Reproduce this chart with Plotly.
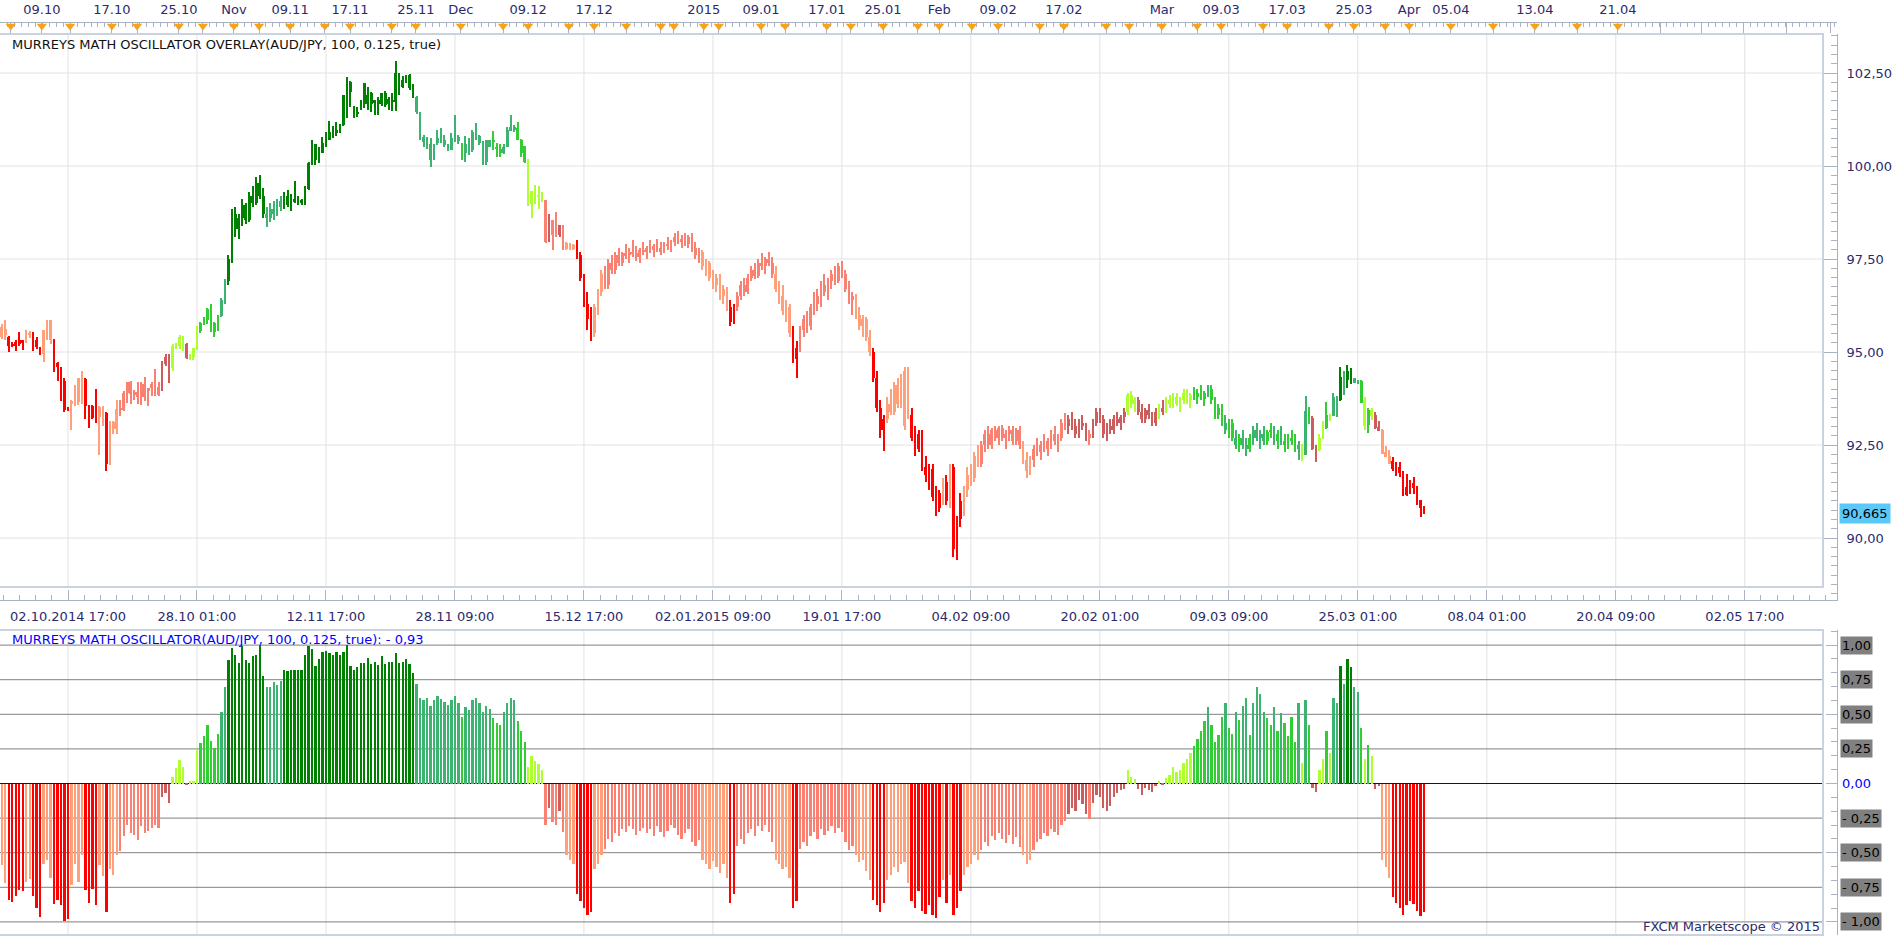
import plotly.graph_objects as go

# ---------------------------------------------------------------- data
bar_index = list(range(-19, 390))

opens = [
    95.68, 95.45, 95.41, 95.15, 95.26, 95.22, 95.31, 95.31, 95.46, 95.50,
    95.33, 95.09, 94.95, 95.58, 95.85, 95.35, 94.71, 94.59, 94.23, 93.51,
    93.69, 93.65, 93.66, 94.28, 94.28, 93.57, 93.56, 93.22, 93.53, 93.24,
    93.36, 91.98, 93.13, 92.94, 93.48, 93.44, 93.89, 94.20, 93.84, 93.93,
    93.78, 94.14, 93.94, 94.03, 94.12, 94.05, 93.98, 94.68, 94.86, 94.56,
    95.17, 95.17, 95.41, 95.22, 94.84, 94.86, 95.06, 95.56, 95.74, 95.85,
    96.16, 95.53, 95.62, 95.98, 96.40, 96.90, 97.50, 98.70, 98.30, 98.60,
    98.95, 98.55, 99.20, 99.00, 99.55, 99.20, 98.70, 98.60, 98.85, 98.70,
    99.05, 98.90, 99.20, 98.95, 99.10, 99.05, 99.08, 99.01, 99.39, 100.07,
    100.58, 100.16, 100.36, 100.58, 100.71, 100.95, 100.88, 100.97, 101.10, 101.64,
    102.27, 101.61, 101.46, 101.57, 101.68, 101.91, 101.68, 101.77, 101.67, 101.68,
    101.95, 101.68, 101.77, 101.73, 102.49, 102.13, 102.31, 102.45, 102.09, 101.86,
    101.43, 100.77, 100.65, 100.59, 100.17, 100.61, 100.72, 100.70, 100.59, 100.44,
    100.71, 100.77, 100.61, 100.35, 100.59, 100.43, 100.89, 100.80, 100.65, 100.11,
    100.70, 100.71, 100.52, 100.47, 100.34, 100.52, 100.94, 101.04, 101.01, 100.71,
    100.53, 100.11, 98.97, 99.30, 99.21, 99.17, 99.08, 98.00, 98.54, 98.18,
    98.14, 98.41, 97.93, 97.91, 97.87, 97.80, 97.62, 97.00, 96.30, 95.90,
    95.50, 96.20, 96.60, 97.10, 96.80, 97.40, 97.20, 97.60, 97.40, 97.65,
    97.60, 97.70, 97.65, 97.55, 97.75, 97.70, 97.80, 97.75, 97.85, 97.80,
    97.70, 97.90, 97.85, 97.95, 98.10, 97.95, 98.05, 97.90, 98.10, 97.80,
    97.60, 97.70, 97.30, 97.40, 97.00, 96.80, 97.00, 96.50, 96.70, 96.20,
    95.80, 96.20, 96.50, 96.80, 96.60, 97.00, 97.20, 97.05, 97.40, 97.30,
    97.50, 97.40, 97.10, 96.70, 96.50, 96.10, 96.20, 95.50, 94.80, 95.10,
    95.60, 95.90, 95.70, 96.20, 96.50, 96.30, 96.80, 96.60, 96.90, 97.10,
    96.90, 97.30, 97.10, 96.70, 96.40, 96.50, 96.00, 95.70, 95.90, 95.40,
    95.00, 94.30, 93.50, 92.90, 93.20, 93.60, 93.40, 94.10, 93.60, 93.00,
    94.50, 93.30, 92.70, 92.40, 92.80, 91.90, 91.70, 91.85, 91.10, 90.80,
    91.20, 91.50, 91.00, 91.90, 89.70, 90.50, 91.00, 91.30, 91.70, 91.60,
    92.20, 92.00, 92.50, 92.80, 92.50, 92.90, 92.70, 92.95, 92.70, 92.80,
    92.90, 92.60, 92.90, 92.50, 92.10, 91.80, 92.10, 92.40, 92.30, 92.50,
    92.40, 92.60, 92.80, 92.60, 92.70, 93.10, 93.00, 93.20, 93.00, 92.80,
    93.10, 93.00, 92.70, 92.80, 93.10, 93.40, 93.20, 92.80, 93.00, 92.90,
    93.20, 93.10, 93.25, 93.40, 93.85, 93.60, 93.70, 93.40, 93.20, 93.45,
    93.30, 93.10, 93.40, 93.50, 93.40, 93.70, 93.60, 93.80, 93.60, 93.70,
    93.90, 93.70, 93.85, 93.80, 93.90, 93.75, 93.90, 94.00, 93.70, 93.30,
    93.50, 93.10, 92.90, 93.10, 92.70, 92.50, 92.70, 92.50, 92.40, 92.70,
    92.90, 92.70, 92.80, 92.60, 92.85, 92.90, 92.60, 92.80, 92.60, 92.50,
    92.70, 92.60, 92.40, 92.52, 92.24, 93.42, 93.22, 92.43, 92.36, 92.69,
    92.95, 93.31, 93.29, 93.80, 93.71, 94.34, 94.25, 94.48, 94.30, 94.20,
    94.21, 93.71, 93.03, 93.44, 93.31, 92.99, 92.91, 92.30, 92.21, 92.06,
    91.93, 91.91, 91.80, 91.16, 91.37, 91.49, 91.40, 91.01, 90.84,
]

highs = [
    95.76, 95.87, 95.43, 95.26, 95.33, 95.55, 95.33, 95.58, 95.56, 95.55,
    95.40, 95.13, 95.58, 95.85, 95.86, 95.36, 94.72, 94.60, 94.30, 93.53,
    93.70, 94.10, 94.30, 94.50, 94.29, 93.58, 93.58, 94.01, 93.55, 93.55,
    93.38, 93.15, 93.14, 93.72, 93.72, 93.96, 94.20, 94.21, 93.98, 94.20,
    94.20, 94.32, 94.04, 94.20, 94.54, 94.19, 94.75, 94.95, 94.95, 95.22,
    95.25, 95.45, 95.42, 95.23, 94.94, 95.12, 95.71, 95.82, 95.95, 96.17,
    96.28, 95.80, 95.99, 96.45, 96.95, 97.60, 98.85, 98.90, 98.70, 99.10,
    99.00, 99.30, 99.45, 99.70, 99.75, 99.40, 98.90, 99.00, 99.05, 99.10,
    99.20, 99.30, 99.35, 99.25, 99.60, 99.20, 99.10, 99.46, 100.11, 100.70,
    100.59, 100.52, 100.77, 100.92, 101.21, 101.07, 101.19, 101.12, 101.91, 102.40,
    102.29, 101.62, 101.58, 101.77, 102.22, 102.13, 102.00, 101.78, 101.86, 101.97,
    102.02, 101.86, 101.97, 102.82, 102.51, 102.42, 102.45, 102.46, 102.20, 101.87,
    101.44, 100.83, 100.77, 100.74, 100.59, 100.97, 101.01, 100.83, 100.60, 100.88,
    101.37, 100.83, 100.61, 100.81, 100.74, 100.97, 101.16, 100.83, 100.66, 100.71,
    100.71, 100.94, 100.61, 100.59, 100.59, 101.05, 101.37, 101.10, 101.19, 100.72,
    100.54, 100.20, 99.33, 99.48, 99.46, 99.30, 99.09, 98.72, 98.55, 98.76,
    98.42, 98.42, 97.96, 97.93, 97.91, 98.02, 97.70, 97.10, 96.60, 96.20,
    96.30, 96.70, 97.20, 97.30, 97.50, 97.60, 97.70, 97.80, 97.70, 97.90,
    97.80, 98.00, 97.85, 97.80, 97.95, 97.85, 98.00, 97.90, 98.05, 97.95,
    97.95, 98.10, 98.00, 98.20, 98.25, 98.15, 98.20, 98.15, 98.20, 97.95,
    97.80, 97.75, 97.50, 97.45, 97.20, 97.10, 97.10, 96.80, 96.75, 96.40,
    96.30, 96.60, 96.90, 97.00, 97.10, 97.30, 97.40, 97.50, 97.65, 97.55,
    97.70, 97.55, 97.30, 96.90, 96.80, 96.40, 96.30, 95.70, 95.30, 95.70,
    96.00, 96.10, 96.30, 96.60, 96.70, 96.90, 97.10, 97.00, 97.20, 97.30,
    97.40, 97.45, 97.20, 96.90, 96.60, 96.55, 96.20, 96.00, 95.95, 95.60,
    95.10, 94.50, 93.70, 93.30, 93.80, 94.00, 94.20, 94.30, 94.40, 94.60,
    94.60, 93.50, 93.00, 92.90, 92.90, 92.20, 92.00, 92.00, 91.40, 91.30,
    91.60, 91.70, 92.00, 92.00, 90.60, 91.20, 91.40, 91.90, 92.00, 92.30,
    92.50, 92.60, 92.90, 93.00, 92.95, 93.00, 93.00, 93.05, 92.90, 93.00,
    93.00, 92.95, 93.00, 92.60, 92.30, 92.20, 92.50, 92.70, 92.60, 92.80,
    92.70, 92.90, 93.00, 92.80, 93.20, 93.35, 93.30, 93.40, 93.20, 93.20,
    93.30, 93.10, 92.90, 93.20, 93.50, 93.50, 93.30, 93.10, 93.20, 93.30,
    93.40, 93.30, 93.50, 93.90, 93.95, 93.80, 93.80, 93.60, 93.50, 93.60,
    93.40, 93.50, 93.60, 93.70, 93.80, 93.85, 93.90, 93.90, 93.80, 94.00,
    94.00, 93.90, 94.05, 94.00, 94.10, 93.95, 94.10, 94.10, 93.80, 93.60,
    93.60, 93.30, 93.20, 93.20, 92.90, 92.80, 92.90, 92.70, 92.80, 93.00,
    93.10, 92.90, 93.00, 92.90, 93.10, 93.00, 92.90, 93.00, 92.80, 92.80,
    92.90, 92.80, 92.60, 92.53, 93.83, 93.53, 93.29, 92.51, 92.79, 93.15,
    93.65, 93.32, 93.91, 93.81, 94.59, 94.50, 94.66, 94.57, 94.31, 94.25,
    94.25, 93.80, 93.49, 93.49, 93.38, 93.15, 92.93, 92.48, 92.36, 92.18,
    92.03, 92.05, 91.81, 91.71, 91.56, 91.65, 91.41, 91.02, 90.86,
]

lows = [
    95.35, 95.31, 94.99, 95.13, 95.04, 95.17, 95.06, 95.24, 95.38, 95.04,
    95.08, 94.93, 94.74, 95.31, 95.22, 94.47, 94.23, 93.69, 93.40, 93.42,
    92.90, 93.56, 93.58, 93.60, 93.21, 92.97, 93.19, 93.10, 92.22, 93.02,
    91.79, 91.96, 92.79, 92.79, 93.29, 93.42, 93.62, 93.60, 93.71, 93.60,
    93.58, 93.69, 93.56, 93.83, 93.83, 93.83, 93.94, 94.63, 94.16, 94.50,
    95.08, 95.08, 95.04, 94.81, 94.79, 94.79, 95.05, 95.51, 95.73, 95.74,
    95.53, 95.40, 95.56, 95.94, 96.30, 96.80, 97.40, 98.10, 98.05, 98.40,
    98.45, 98.50, 98.90, 98.95, 99.10, 98.60, 98.35, 98.50, 98.55, 98.65,
    98.80, 98.85, 98.90, 98.80, 99.00, 98.95, 98.94, 98.94, 99.36, 100.02,
    100.02, 100.09, 100.35, 100.52, 100.70, 100.74, 100.80, 100.88, 101.07, 101.28,
    101.59, 101.28, 101.32, 101.50, 101.55, 101.50, 101.46, 101.37, 101.37, 101.61,
    101.59, 101.50, 101.49, 101.49, 101.91, 102.09, 102.22, 102.04, 101.84, 101.41,
    100.70, 100.52, 100.47, 99.96, 100.16, 100.56, 100.61, 100.52, 100.41, 100.43,
    100.65, 100.59, 100.16, 100.11, 100.29, 100.38, 100.71, 100.56, 100.02, 100.02,
    100.50, 100.43, 100.25, 100.25, 100.32, 100.50, 100.94, 100.92, 100.70, 100.25,
    100.07, 98.92, 98.59, 98.99, 98.85, 99.03, 97.93, 97.96, 97.75, 98.09,
    98.09, 97.75, 97.73, 97.75, 97.73, 97.50, 96.90, 96.20, 95.60, 95.30,
    95.40, 96.00, 96.50, 96.70, 96.70, 97.10, 97.10, 97.30, 97.30, 97.50,
    97.40, 97.55, 97.45, 97.40, 97.60, 97.50, 97.65, 97.55, 97.70, 97.60,
    97.65, 97.75, 97.70, 97.85, 97.90, 97.80, 97.85, 97.80, 97.70, 97.50,
    97.40, 97.20, 97.05, 96.90, 96.70, 96.60, 96.40, 96.30, 96.10, 95.70,
    95.75, 96.10, 96.40, 96.50, 96.55, 96.90, 96.95, 97.00, 97.20, 97.10,
    97.30, 97.00, 96.60, 96.30, 96.00, 95.80, 95.40, 94.70, 94.30, 95.00,
    95.40, 95.50, 95.60, 96.00, 96.10, 96.20, 96.50, 96.40, 96.70, 96.80,
    96.85, 97.00, 96.60, 96.30, 96.00, 95.90, 95.60, 95.40, 95.30, 94.90,
    94.20, 93.40, 92.70, 92.35, 93.10, 93.30, 93.30, 93.50, 93.50, 92.90,
    93.20, 92.60, 92.20, 92.30, 91.80, 91.50, 91.30, 91.00, 90.60, 90.70,
    90.90, 90.90, 90.80, 89.50, 89.40, 90.30, 90.60, 91.10, 91.40, 91.50,
    91.90, 91.90, 92.30, 92.40, 92.40, 92.60, 92.50, 92.60, 92.40, 92.60,
    92.50, 92.50, 92.40, 92.00, 91.60, 91.70, 91.90, 92.20, 92.10, 92.30,
    92.20, 92.40, 92.50, 92.30, 92.60, 92.90, 92.80, 92.90, 92.70, 92.70,
    92.90, 92.60, 92.50, 92.70, 93.00, 93.10, 92.70, 92.60, 92.80, 92.80,
    93.00, 92.90, 93.10, 93.30, 93.50, 93.40, 93.30, 93.10, 93.10, 93.20,
    93.00, 93.00, 93.20, 93.30, 93.35, 93.50, 93.50, 93.55, 93.40, 93.60,
    93.60, 93.50, 93.70, 93.60, 93.70, 93.55, 93.80, 93.60, 93.20, 93.20,
    93.00, 92.80, 92.70, 92.60, 92.40, 92.30, 92.40, 92.20, 92.30, 92.50,
    92.60, 92.40, 92.50, 92.50, 92.70, 92.50, 92.40, 92.50, 92.30, 92.40,
    92.50, 92.30, 92.10, 92.07, 92.23, 93.06, 92.36, 92.03, 92.35, 92.66,
    92.93, 93.15, 93.28, 93.24, 93.69, 93.85, 94.03, 94.14, 94.17, 94.14,
    93.62, 92.90, 92.81, 93.17, 92.93, 92.88, 92.25, 92.18, 91.98, 91.79,
    91.67, 91.64, 91.13, 91.13, 91.19, 91.19, 90.89, 90.57, 90.64,
]

closes = [
    95.40, 95.62, 95.17, 95.22, 95.15, 95.31, 95.26, 95.46, 95.51, 95.24,
    95.13, 94.95, 95.58, 95.85, 95.33, 94.70, 94.59, 93.96, 93.44, 93.44,
    93.60, 94.10, 94.30, 93.65, 93.56, 93.26, 93.22, 93.56, 93.24, 93.53,
    91.98, 93.13, 92.94, 93.48, 93.46, 93.91, 94.20, 93.87, 93.93, 93.78,
    94.14, 93.78, 94.03, 94.13, 94.03, 93.85, 94.74, 94.86, 94.56, 95.15,
    95.18, 95.41, 95.17, 94.84, 94.93, 95.11, 95.60, 95.79, 95.89, 96.16,
    95.62, 95.79, 95.98, 96.40, 96.90, 97.50, 98.70, 98.30, 98.60, 98.95,
    98.55, 99.20, 99.00, 99.55, 99.20, 98.70, 98.60, 98.85, 98.70, 99.05,
    98.90, 99.20, 98.95, 99.10, 99.05, 99.00, 99.01, 99.46, 100.07, 100.58,
    100.16, 100.40, 100.61, 100.72, 100.92, 100.83, 100.97, 101.12, 101.91, 102.27,
    102.00, 101.46, 101.41, 101.67, 102.22, 101.67, 101.95, 101.70, 101.77, 101.95,
    101.64, 101.79, 101.73, 102.49, 102.13, 102.31, 102.45, 102.09, 101.86, 101.46,
    100.71, 100.65, 100.61, 100.17, 100.59, 100.74, 100.65, 100.56, 100.44, 100.74,
    100.88, 100.68, 100.34, 100.59, 100.35, 100.92, 100.74, 100.61, 100.11, 100.70,
    100.52, 100.65, 100.47, 100.34, 100.52, 100.97, 101.05, 100.97, 100.71, 100.34,
    100.11, 98.94, 99.33, 99.21, 99.17, 99.06, 97.96, 98.50, 98.14, 98.14,
    98.41, 97.78, 97.78, 97.80, 97.78, 97.62, 97.00, 96.30, 95.90, 95.50,
    96.20, 96.60, 97.10, 96.80, 97.40, 97.20, 97.60, 97.40, 97.65, 97.60,
    97.70, 97.65, 97.55, 97.75, 97.70, 97.80, 97.75, 97.85, 97.80, 97.70,
    97.90, 97.85, 97.95, 98.10, 97.95, 98.05, 97.90, 98.10, 97.80, 97.60,
    97.70, 97.30, 97.40, 97.00, 96.80, 97.00, 96.50, 96.70, 96.20, 95.80,
    96.20, 96.50, 96.80, 96.60, 97.00, 97.20, 97.05, 97.40, 97.30, 97.50,
    97.40, 97.10, 96.70, 96.50, 96.10, 96.20, 95.50, 94.80, 95.10, 95.60,
    95.90, 95.70, 96.20, 96.50, 96.30, 96.80, 96.60, 96.90, 97.10, 96.90,
    97.30, 97.10, 96.70, 96.40, 96.50, 96.00, 95.70, 95.90, 95.40, 95.00,
    94.30, 93.50, 92.90, 93.20, 93.60, 93.40, 94.10, 93.60, 94.30, 94.50,
    93.30, 92.70, 92.40, 92.80, 91.90, 91.70, 91.85, 91.10, 90.80, 91.20,
    91.50, 91.00, 91.90, 89.70, 90.50, 91.00, 91.30, 91.70, 91.60, 92.20,
    92.00, 92.50, 92.80, 92.50, 92.90, 92.70, 92.95, 92.70, 92.80, 92.90,
    92.60, 92.90, 92.50, 92.10, 91.80, 92.10, 92.40, 92.30, 92.50, 92.40,
    92.60, 92.80, 92.60, 92.70, 93.10, 93.00, 93.20, 93.00, 92.80, 93.10,
    93.00, 92.70, 92.80, 93.10, 93.40, 93.20, 92.80, 93.00, 92.90, 93.20,
    93.10, 93.25, 93.40, 93.85, 93.60, 93.70, 93.40, 93.20, 93.45, 93.30,
    93.10, 93.40, 93.50, 93.40, 93.70, 93.60, 93.80, 93.60, 93.70, 93.90,
    93.70, 93.85, 93.80, 93.90, 93.75, 93.90, 94.00, 93.70, 93.30, 93.50,
    93.10, 92.90, 93.10, 92.70, 92.50, 92.70, 92.50, 92.40, 92.70, 92.90,
    92.70, 92.80, 92.60, 92.85, 92.90, 92.60, 92.80, 92.60, 92.50, 92.70,
    92.60, 92.40, 92.50, 92.24, 93.42, 93.20, 92.39, 92.36, 92.69, 92.95,
    93.31, 93.29, 93.80, 93.74, 94.34, 94.10, 94.48, 94.30, 94.18, 94.18,
    93.62, 93.02, 93.45, 93.29, 92.95, 92.88, 92.27, 92.18, 92.00, 91.85,
    91.90, 91.76, 91.14, 91.37, 91.49, 91.34, 90.91, 90.82, 90.68,
]

osc = [
    -0.59, -0.72, -0.84, -0.855, -0.81, -0.77, -0.78, -0.71, -0.69, -0.81,
    -0.90, -0.965, -0.58, -0.55, -0.68, -0.87, -0.84, -0.88, -0.99, -0.98,
    -0.73, -0.58, -0.71, -0.52, -0.77, -0.86, -0.76, -0.88, -0.59, -0.67,
    -0.93, -0.62, -0.66, -0.52, -0.49, -0.38, -0.30, -0.36, -0.37, -0.41,
    -0.31, -0.36, -0.34, -0.32, -0.30, -0.32, -0.10, -0.07, -0.14, 0.05,
    0.11, 0.17, 0.12, -0.01, 0.02, 0.02, 0.24, 0.29, 0.34, 0.42,
    0.31, 0.26, 0.36, 0.52, 0.70, 0.89, 0.98, 0.93, 0.87, 0.99,
    0.89, 0.87, 0.92, 0.93, 1.00, 0.78, 0.70, 0.70, 0.735, 0.71,
    0.74, 0.82, 0.81, 0.82, 0.82, 0.82, 0.82, 0.93, 0.99, 0.97,
    0.85, 0.90, 0.95, 0.96, 0.94, 0.93, 0.95, 0.93, 0.95, 1.00,
    0.85, 0.82, 0.84, 0.87, 0.87, 0.91, 0.86, 0.88, 0.855, 0.92,
    0.86, 0.88, 0.88, 0.94, 0.87, 0.88, 0.90, 0.86, 0.80, 0.72,
    0.62, 0.60, 0.62, 0.56, 0.60, 0.63, 0.61, 0.59, 0.57, 0.60,
    0.63, 0.58, 0.48, 0.55, 0.53, 0.60, 0.62, 0.58, 0.52, 0.56,
    0.54, 0.47, 0.44, 0.42, 0.52, 0.58, 0.62, 0.60, 0.45, 0.38,
    0.30, 0.12, 0.20, 0.16, 0.14, 0.10, -0.30, -0.18, -0.28, -0.30,
    -0.20, -0.35, -0.52, -0.55, -0.58, -0.80, -0.85, -0.90, -0.95, -0.93,
    -0.62, -0.58, -0.52, -0.47, -0.40, -0.42, -0.36, -0.38, -0.33, -0.35,
    -0.31, -0.33, -0.37, -0.34, -0.32, -0.36, -0.33, -0.38, -0.31, -0.35,
    -0.39, -0.34, -0.30, -0.32, -0.37, -0.40, -0.36, -0.33, -0.42, -0.45,
    -0.41, -0.55, -0.58, -0.62, -0.56, -0.60, -0.65, -0.58, -0.68, -0.86,
    -0.80, -0.45, -0.40, -0.44, -0.36, -0.33, -0.38, -0.31, -0.34, -0.30,
    -0.35, -0.42, -0.55, -0.58, -0.62, -0.60, -0.68, -0.90, -0.85, -0.47,
    -0.42, -0.45, -0.38, -0.35, -0.40, -0.33, -0.37, -0.34, -0.31, -0.36,
    -0.32, -0.35, -0.42, -0.48, -0.45, -0.52, -0.57, -0.55, -0.63, -0.70,
    -0.84, -0.88, -0.93, -0.86, -0.70, -0.66, -0.60, -0.64, -0.58, -0.57,
    -0.72, -0.85, -0.90, -0.78, -0.92, -0.94, -0.88, -0.95, -0.97, -0.82,
    -0.70, -0.86, -0.66, -0.95, -0.90, -0.78, -0.66, -0.60, -0.58, -0.52,
    -0.55, -0.48, -0.42, -0.45, -0.38, -0.41, -0.36, -0.40, -0.43, -0.37,
    -0.44, -0.39, -0.46, -0.52, -0.58, -0.55, -0.48, -0.42, -0.40, -0.36,
    -0.38, -0.33, -0.35, -0.37, -0.30, -0.27, -0.22, -0.18, -0.20, -0.12,
    -0.15, -0.22, -0.26, -0.14, -0.08, -0.10, -0.18, -0.20, -0.16, -0.10,
    -0.07, -0.05, -0.04, 0.10, 0.05, 0.03, -0.04, -0.08, -0.03, -0.05,
    -0.06, -0.02, 0.02, -0.01, 0.04, 0.06, 0.12, 0.08, 0.10, 0.15,
    0.18, 0.22, 0.27, 0.32, 0.38, 0.45, 0.55, 0.42, 0.30, 0.35,
    0.48, 0.58, 0.40, 0.36, 0.52, 0.46, 0.56, 0.62, 0.35, 0.58,
    0.70, 0.65, 0.52, 0.47, 0.42, 0.55, 0.38, 0.51, 0.44, 0.34,
    0.48, 0.30, 0.58, 0.15, 0.60, 0.42, -0.03, -0.06, 0.10, 0.18,
    0.38, 0.22, 0.62, 0.58, 0.85, 0.72, 0.90, 0.84, 0.70, 0.66,
    0.40, 0.18, 0.28, 0.20, -0.04, -0.02, -0.55, -0.60, -0.68, -0.82,
    -0.86, -0.90, -0.95, -0.88, -0.85, -0.87, -0.92, -0.96, -0.93,
]

time_tick_pos = [0, 37, 74, 111, 148, 185, 222, 259, 296, 333, 370, 407, 444, 481]
time_tick_labels = ["02.10.2014 17:00", "28.10 01:00", "12.11 17:00", "28.11 09:00",
                    "15.12 17:00", "02.01.2015 09:00", "19.01 17:00", "04.02 09:00",
                    "20.02 01:00", "09.03 09:00", "25.03 01:00", "08.04 01:00",
                    "20.04 09:00", "02.05 17:00"]

top_label_pos = [-7.5, 12.6, 31.8, 47.6, 63.7, 80.9, 99.8, 112.7, 132.0, 150.9,
                 182.4, 198.8, 217.7, 233.8, 249.9, 266.8, 285.7, 313.8, 330.8,
                 349.7, 368.9, 384.7, 396.7, 420.8, 444.6]
top_labels = ["09.10", "17.10", "25.10", "Nov", "09.11", "17.11", "25.11", "Dec",
              "09.12", "17.12", "2015", "09.01", "17.01", "25.01", "Feb", "09.02",
              "17.02", "Mar", "09.03", "17.03", "25.03", "Apr", "05.04", "13.04", "21.04"]
top_marker_pos = [-16.4, 0.6, 19.8, 38.7, 54.8, 73.7, 92.9, 124.8, 143.7, 160.1,
                  170.1, 173.8, 186.7, 205.7, 224.6, 243.8, 259.3, 278.8, 297.8,
                  304.4, 323.9, 342.8, 361.7, 377.8, 408.8, 432.9]
top_extra_ticks = [456.7, 468.7, 480.5, 493.1, 505.5]

price_ticks = [90.0, 92.5, 95.0, 97.5, 100.0, 102.5]
price_tick_labels = ["90,00", "92,50", "95,00", "97,50", "100,00", "102,50"]
osc_levels = [1.0, 0.75, 0.5, 0.25, 0.0, -0.25, -0.5, -0.75, -1.0]
osc_level_labels = ["1,00", "0,75", "0,50", "0,25", "0,00", "- 0,25", "- 0,50", "- 0,75", "- 1,00"]
last_price = 90.665
last_price_label = "90,665"
main_title = "MURREYS MATH OSCILLATOR OVERLAY(AUD/JPY, 100, 0.125, true)"
osc_title = "MURREYS MATH OSCILLATOR(AUD/JPY, 100, 0.125, true): - 0,93"
credit = "FXCM Marketscope © 2015"

n = len(bar_index)
assert all(len(a) == n for a in (opens, highs, lows, closes, osc)), [len(a) for a in (opens, highs, lows, closes, osc)]

# ---------------------------------------------------------------- layout geometry (pixels)
W, H = 1903, 937
AXIS_X = 1837          # right ruler line
FRAME_R = 1823         # right edge of the panels' frame
MAIN_TOP, MAIN_FRAME_BOT, MAIN_AXIS_BOT = 34, 587, 600
OSC_TOP, OSC_BOT = 630, 935
TOP_RULER = 22
BAR_X0, BAR_STEP = 68.0, 3.486          # pixel of bar 0 and bar spacing
P_REF_HI, P_REF_HI_PX, P_REF_LO, P_REF_LO_PX = 102.5, 73.0, 90.0, 538.0
O_ZERO_PX, O_UNIT_PX = 783.5, 138.4

def fx(p):
    return p / W

def fy(p):
    return 1 - p / H

ppu = (P_REF_LO_PX - P_REF_HI_PX) / (P_REF_HI - P_REF_LO)
main_range = [P_REF_HI - (MAIN_AXIS_BOT - P_REF_HI_PX) / ppu, P_REF_HI + (P_REF_HI_PX - MAIN_TOP) / ppu]
osc_range = [-(OSC_BOT - O_ZERO_PX) / O_UNIT_PX, (O_ZERO_PX - OSC_TOP) / O_UNIT_PX]
x_range = [(0 - BAR_X0) / BAR_STEP, (AXIS_X - BAR_X0) / BAR_STEP]

FONT = "DejaVu Sans"
AX_TXT = "#2B2B6B"
RULER = "#A9B3C3"
FRAME = "#C9D2DE"
GRID = "#E2E2E2"


def zone_color(v):
    if v > 0.75:
        return "#008000"
    if v > 0.5:
        return "#3CB371"
    if v > 0.25:
        return "#32CD32"
    if v >= 0:
        return "#ADFF2F"
    if v >= -0.25:
        return "#CD5C5C"
    if v >= -0.5:
        return "#FA8072"
    if v >= -0.75:
        return "#FFA07A"
    return "#FF0000"


colors = [zone_color(v) for v in osc]
body_base = [min(o, c) for o, c in zip(opens, closes)]
body_h = [max(abs(c - o), 0.03) for o, c in zip(opens, closes)]
wick_h = [h - l for h, l in zip(highs, lows)]

fig = go.Figure()
fig.add_trace(go.Bar(x=bar_index, y=wick_h, base=lows, width=0.3,
                     marker=dict(color=colors, line=dict(width=0)),
                     xaxis="x", yaxis="y", showlegend=False))
fig.add_trace(go.Bar(x=bar_index, y=body_h, base=body_base, width=0.76,
                     marker=dict(color=colors, line=dict(width=0)),
                     xaxis="x", yaxis="y", showlegend=False))
fig.add_trace(go.Bar(x=bar_index, y=osc, width=0.66,
                     marker=dict(color=colors, line=dict(width=0)),
                     xaxis="x", yaxis="y2", showlegend=False))

# orange markers on the top ruler (drawn on the top time axis)
tri_pos = top_label_pos + top_marker_pos
fig.add_trace(go.Scatter(x=tri_pos, y=[26] * len(tri_pos), mode="markers",
                         marker=dict(symbol="triangle-down", size=9, color="#F7A21B",
                                     line=dict(width=0)),
                         xaxis="x2", yaxis="y3", showlegend=False, hoverinfo="skip",
                         cliponaxis=False))

top_ticks = sorted(top_label_pos + top_marker_pos + top_extra_ticks)
top_text_map = dict(zip(top_label_pos, top_labels))
top_ticktext = [top_text_map.get(v, "") for v in top_ticks]

shapes = []
for g in time_tick_pos:
    for (y0, y1) in ((MAIN_FRAME_BOT, MAIN_TOP), (OSC_BOT, OSC_TOP)):
        shapes.append(dict(type="line", xref="x", yref="paper", x0=g, x1=g,
                           y0=fy(y0), y1=fy(y1), line=dict(color=GRID, width=1), layer="below"))
for p in price_ticks:
    shapes.append(dict(type="line", xref="paper", yref="y", x0=0, x1=fx(FRAME_R), y0=p, y1=p,
                       line=dict(color=GRID, width=1), layer="below"))
for lv in osc_levels:
    shapes.append(dict(type="line", xref="paper", yref="y2", x0=0, x1=fx(FRAME_R), y0=lv, y1=lv,
                       line=dict(color="#0000CC" if lv == 0 else "#808080", width=1), layer="below"))
for (y0, y1) in ((MAIN_FRAME_BOT, MAIN_TOP), (OSC_BOT, OSC_TOP)):
    shapes.append(dict(type="rect", xref="paper", yref="paper", x0=fx(-1), x1=fx(FRAME_R),
                       y0=fy(y0), y1=fy(y1), line=dict(color=FRAME, width=2), layer="above"))

annotations = [
    dict(text=main_title, xref="paper", yref="paper", x=fx(10), y=fy(44), xanchor="left",
         yanchor="middle", showarrow=False, font=dict(family=FONT, size=13, color="#111111")),
    dict(text=osc_title, xref="paper", yref="paper", x=fx(10), y=fy(639), xanchor="left",
         yanchor="middle", showarrow=False, font=dict(family=FONT, size=13, color="#0000FF")),
    dict(text=credit, xref="paper", yref="paper", x=fx(FRAME_R - 1), y=fy(926), xanchor="right",
         yanchor="middle", showarrow=False, font=dict(family=FONT, size=13, color=AX_TXT)),
    dict(text=last_price_label, xref="paper", yref="y", x=fx(AXIS_X + 2), y=last_price,
         xanchor="left", yanchor="middle", showarrow=False, bgcolor="#5CC8F8", borderpad=2,
         font=dict(family=FONT, size=13, color="#000000")),
]
for lv, lab in zip(osc_levels, osc_level_labels):
    if lv == 0:
        annotations.append(dict(text=lab, xref="paper", yref="y2", x=fx(AXIS_X + 3), y=lv,
                                xanchor="left", yanchor="middle", showarrow=False,
                                font=dict(family=FONT, size=13, color="#0000FF")))
    else:
        annotations.append(dict(text=lab, xref="paper", yref="y2", x=fx(AXIS_X + 3), y=lv,
                                xanchor="left", yanchor="middle", showarrow=False,
                                bgcolor="#808080", borderpad=1,
                                font=dict(family=FONT, size=13, color="#000000")))

fig.update_layout(
    width=W, height=H, margin=dict(l=0, r=0, t=0, b=0),
    paper_bgcolor="white", plot_bgcolor="white",
    font=dict(family=FONT, size=13, color=AX_TXT),
    barmode="overlay", bargap=0, bargroupgap=0, hovermode=False, showlegend=False,
    xaxis=dict(domain=[0, fx(AXIS_X)], range=x_range, anchor="y", side="bottom",
               showline=True, linecolor=RULER, linewidth=1,
               tickmode="array", tickvals=time_tick_pos, ticktext=time_tick_labels,
               ticks="inside", ticklen=10, tickcolor=RULER, tickwidth=1,
               minor=dict(tickmode="linear", tick0=0, dtick=37 / 8, ticks="inside",
                          ticklen=5, tickcolor=RULER),
               showgrid=False, zeroline=False, ticklabelstandoff=4,
               ticklabeloverflow="allow",
               tickfont=dict(family=FONT, size=13, color=AX_TXT)),
    xaxis2=dict(overlaying="x", anchor="free", position=fy(TOP_RULER), side="top",
                range=x_range, showline=True, linecolor=RULER, linewidth=1,
                tickmode="array", tickvals=top_ticks, ticktext=top_ticktext,
                ticks="inside", ticklen=10, tickcolor=RULER, layer="below traces",
                minor=dict(tickmode="linear", tick0=444.6, dtick=2, ticks="inside",
                           ticklen=4, tickcolor=RULER),
                showgrid=False, zeroline=False, ticklabelstandoff=3,
                tickfont=dict(family=FONT, size=13, color=AX_TXT)),
    yaxis=dict(domain=[fy(MAIN_AXIS_BOT), fy(MAIN_TOP)], range=main_range, anchor="x",
               side="right", showline=True, linecolor=RULER, linewidth=1,
               tickmode="array", tickvals=price_ticks, ticktext=price_tick_labels,
               ticks="inside", ticklen=13, tickcolor=RULER,
               minor=dict(tickmode="linear", tick0=0, dtick=0.25, ticks="inside",
                          ticklen=6, tickcolor=RULER),
               showgrid=False, zeroline=False, ticklabelstandoff=6,
               tickfont=dict(family=FONT, size=13, color=AX_TXT)),
    yaxis2=dict(domain=[fy(OSC_BOT), fy(OSC_TOP)], range=osc_range, anchor="x",
                side="right", showline=True, linecolor=RULER, linewidth=1,
                tickmode="linear", tick0=0, dtick=0.5, ticks="inside", ticklen=11,
                tickcolor=RULER, showticklabels=False,
                minor=dict(tickmode="linear", tick0=0, dtick=0.1, ticks="inside",
                           ticklen=6, tickcolor=RULER),
                showgrid=False, zeroline=False),
    yaxis3=dict(domain=[fy(MAIN_TOP), 1], range=[MAIN_TOP, 0], anchor="free", position=0,
                visible=False, showgrid=False, zeroline=False),
    shapes=shapes,
    annotations=annotations,
)

fig.write_html("out.html", post_script="document.body.style.margin='0';")
